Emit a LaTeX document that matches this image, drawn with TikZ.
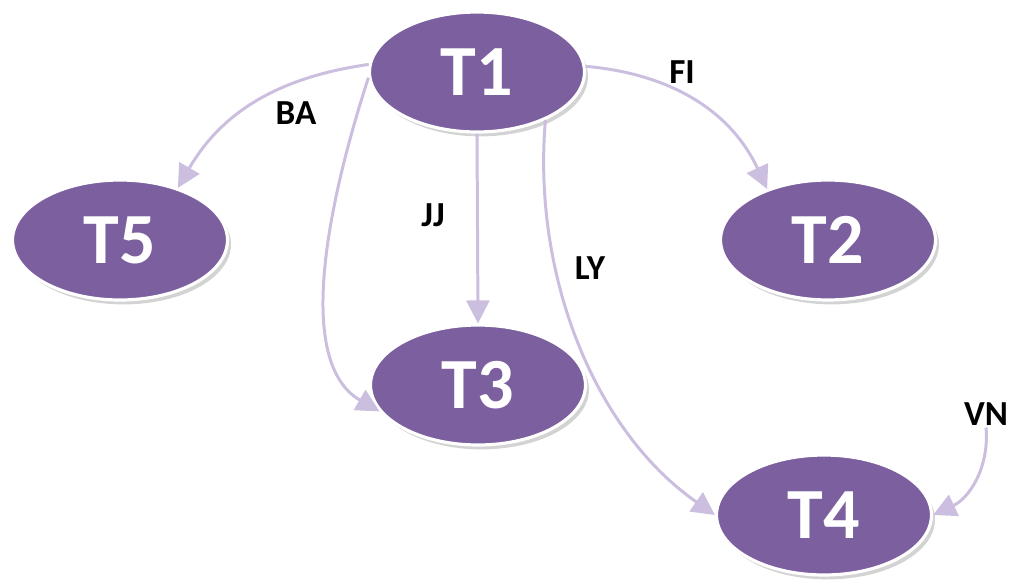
\documentclass[tikz,border=0pt]{standalone}
\usepackage{fontspec}
\setmainfont{Carlito}
\usetikzlibrary{arrows.meta,shapes.geometric,shadows}

\definecolor{taskfill}{RGB}{124,95,158}
\definecolor{linkcol}{RGB}{203,190,223}

\tikzset{
  task/.style={ellipse, fill=taskfill, draw=white, line width=1.8pt,
    minimum width=4.3cm, minimum height=2.4cm, inner sep=0pt, text=white,
    font=\bfseries\fontsize{41}{41}\selectfont,
    drop shadow={shadow xshift=2pt, shadow yshift=-2.5pt, opacity=0.35}},
  lbl/.style={font=\bfseries\fontsize{20}{20}\selectfont, inner sep=1pt},
  link/.style={draw=linkcol, line width=1.7pt,
    -{Triangle[length=0.46cm,width=0.46cm,fill=linkcol]}}
}

\begin{document}
\begin{tikzpicture}[x=0.02cm, y=-0.02cm]
  \useasboundingbox (0,0) rectangle (1018,583);
  \node[task] (t1) at (477,72)  {T1};
  \node[task] (t5) at (120,240) {T5};
  \node[task] (t2) at (828,240) {T2};
  \node[task] (t3) at (478,385) {T3};
  \node[task] (t4) at (824,515) {T4};

  \node[lbl] (ba) at (296,113) {BA};
  \node[lbl] (jj) at (433,215) {JJ};
  \node[lbl] (fi) at (682,72)  {FI};
  \node[lbl] (ly) at (590,268) {LY};
  \node[lbl] (vn) at (986,414) {VN};

  \path
  (t1.176) edge[link, out=188, in=60] (t5.42)
  (t1.183) edge[link, out=252, in=150, looseness=0.8] (t3.195)
  (t1.south) edge[link] (t3.north)
  (t1.-35) edge[link, out=265, in=145, looseness=0.9] (t4.180)
  (t1.3) edge[link, out=-5, in=115] (t2.140)
  (vn.south) edge[link, out=275, in=25] (t4.east)
  ;
\end{tikzpicture}
\end{document}
